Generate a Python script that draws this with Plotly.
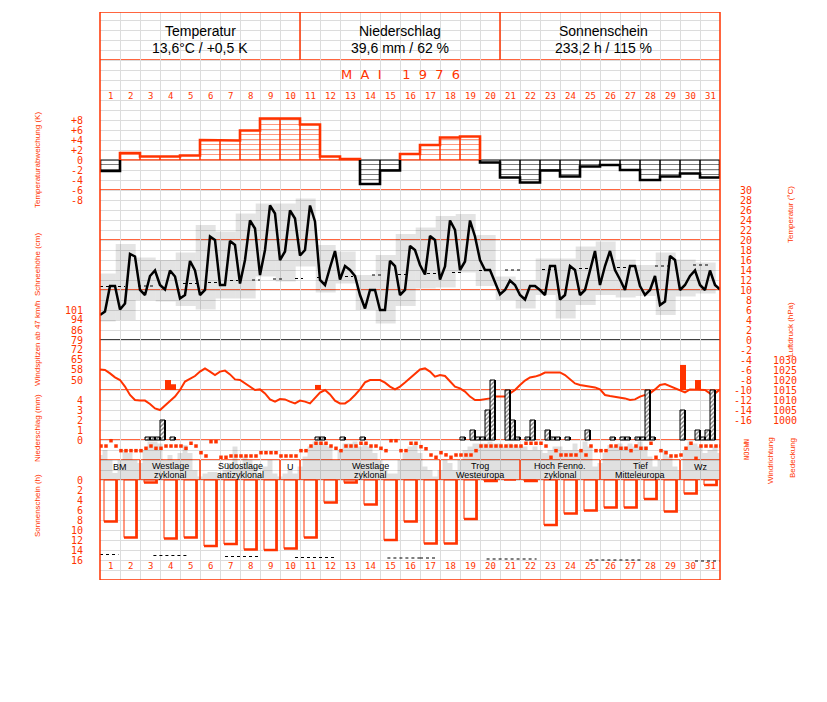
import plotly.graph_objects as go

# ---------------- data ----------------
days = list(range(1, 32))
header_titles = ["Temperatur", "Niederschlag", "Sonnenschein"]
header_values = ["13,6°C / +0,5 K", "39,6 mm / 62 %", "233,2 h / 115 %"]
month_title = "M\u00a0\u00a0A\u00a0\u00a0I\u00a0\u00a0\u00a0\u00a0\u00a01\u00a0\u00a09\u00a0\u00a07\u00a0\u00a06"

temp_dev = [-2.2, 1.4, 0.7, 0.7, 0.9, 4.0, 3.9, 5.9, 8.3, 8.3, 7.1, 0.7, 0.2, -4.8, -2.1, 1.2,
            3.0, 4.5, 4.7, -0.5, -3.5, -4.5, -2.1, -3.3, -1.3, -1.0, -2.0, -4.0, -3.3, -2.7, -3.5]

# 6-hourly air temperature (°C), starting 1 May 00h
temp_6h = [5.0, 5.7, 10.8, 10.8, 6.1, 7.3, 17.2, 16.7, 10.0, 9.0, 12.8, 13.9, 11.0, 10.1, 13.9, 12.7,
           8.3, 9.0, 15.8, 13.9, 9.0, 10.0, 20.7, 20.0, 11.0, 11.0, 19.8, 19.0, 11.3, 16.0, 23.9, 22.3,
           13.0, 18.0, 26.9, 25.3, 16.0, 17.7, 25.9, 24.3, 16.9, 18.0, 26.9, 23.7, 12.0, 11.0, 14.5, 17.8,
           12.1, 14.8, 14.0, 12.8, 9.0, 6.3, 10.0, 10.0, 6.0, 6.0, 15.8, 14.8, 9.0, 10.0, 18.8, 18.0,
           15.0, 13.1, 20.8, 20.0, 12.1, 14.7, 23.9, 22.0, 14.0, 15.7, 23.9, 20.7, 16.0, 14.0, 14.0, 11.7,
           9.1, 10.0, 11.9, 11.0, 9.0, 8.1, 10.8, 10.8, 10.0, 9.0, 14.8, 14.8, 8.1, 9.0, 14.8, 14.0,
           9.0, 10.0, 14.0, 17.8, 11.0, 14.8, 17.8, 14.0, 12.1, 10.0, 14.8, 14.8, 10.8, 9.0, 10.0, 12.8,
           7.0, 7.7, 16.8, 16.0, 10.0, 11.0, 12.8, 13.9, 11.0, 10.0, 13.9, 11.0, 10.1]
temp_max = [13.3, 19.2, 16.5, 16.0, 17.5, 23.0, 21.7, 25.3, 27.3, 27.3, 28.3, 19.0, 17.7, 13.0, 17.0, 21.2,
            22.5, 24.8, 25.2, 21.0, 12.7, 12.0, 16.3, 16.3, 18.7, 19.7, 16.1, 15.0, 17.5, 16.1, 15.5]
temp_min = [3.7, 4.0, 8.0, 7.7, 6.8, 6.1, 8.3, 8.3, 12.7, 11.7, 14.7, 9.5, 11.3, 6.0, 3.3, 6.8,
            10.3, 10.5, 13.5, 10.8, 8.0, 6.3, 9.0, 4.3, 7.0, 9.0, 8.5, 8.8, 5.0, 8.7, 9.3]
# climatological normal (dotted), segments: start day, end day, value
normal_start = [0.5, 2.4, 4.65, 5.9, 7.0, 8.1, 9.15, 10.25, 11.35, 12.75, 14.1, 15.4, 16.85, 18.1, 19.45,
                20.75, 22.6, 24.45, 26.35, 28.25, 30.15]
normal_end = [1.75, 3.25, 5.5, 6.35, 7.4, 8.5, 9.6, 10.65, 11.65, 13.15, 14.65, 15.9, 17.4, 18.65, 20.0,
              21.5, 23.25, 25.0, 26.9, 29.1, 31.0]
normal_val = [10.7, 10.8, 11.3, 11.5, 11.9, 12.0, 12.2, 12.3, 12.5, 12.7, 13.0, 13.1, 13.3, 13.5, 13.9,
              14.0, 14.1, 14.3, 14.5, 14.8, 15.0]

# wind gusts (km/h): start time (day axis), duration, peak
gust_time = [3.75, 4.05, 11.25, 29.5, 30.25]
gust_width = [0.3, 0.25, 0.3, 0.3, 0.3]
gust_val = [50.0, 46.9, 46.4, 61.0, 50.0]
gust_base = 42.7

# 6-hourly air pressure (hPa)
pressure_6h = [1025.3, 1025, 1023.3, 1021.3, 1020, 1016.7, 1012.5, 1010, 1009.7, 1009.7, 1008, 1005.8,
               1005, 1007.5, 1009.5, 1011.7, 1015, 1019.2, 1020.8, 1022, 1024.2, 1025.8, 1024.2, 1022.5,
               1024.2, 1024.7, 1022.8, 1020.3, 1020, 1018.3, 1016.3, 1015, 1015.3, 1013.3, 1010.3, 1009.2,
               1010.5, 1010.3, 1009.2, 1008.3, 1009.7, 1009.2, 1008.3, 1010.8, 1013.7, 1015, 1012.8, 1009.7,
               1008.3, 1008.3, 1010, 1012.5, 1015.3, 1018.8, 1020, 1020, 1020, 1018.7, 1016.7, 1015.3,
               1016.7, 1018.7, 1020.8, 1023,
               1025.3, 1025.8, 1024.2, 1021.7, 1022.5, 1022, 1019.2, 1016.7, 1015.8, 1014.2, 1011.7, 1010,
               1010, 1010.3, 1010.8, 1011.7, 1011.7, 1011.7, 1013.3, 1015, 1017.5, 1019.7, 1021.3, 1021.7,
               1022.5, 1023.7, 1023.8, 1023.8, 1023.8, 1022.5, 1020.3, 1018.3, 1017.5, 1017, 1016.7, 1016.3,
               1015.3, 1012.5, 1012, 1011.7, 1011.3, 1010.8, 1010, 1010.3, 1011.7, 1012.5, 1013.3, 1015.3,
               1017.5, 1018, 1017, 1015.8, 1015, 1013.8, 1015.3, 1015.3, 1015.3, 1015, 1013.3, 1013.3, 1015.3]

# 6-hourly precipitation (mm): time since 1 May 00h (days) and amount
precip_time = [2.25, 2.5, 2.75, 3.0, 3.5, 10.75, 11.0, 12.0, 13.0, 18.0, 18.5, 18.75, 19.0, 19.25, 19.5,
               20.25, 20.5, 20.75, 21.25, 21.5, 22.25, 22.5, 22.75, 23.25, 24.25, 25.5, 26.0, 26.25,
               26.75, 27.0, 27.25, 27.5, 29.0, 29.75, 30.0, 30.25, 30.5]
precip_mm = [0.3, 0.3, 0.3, 2.0, 0.3, 0.3, 0.3, 0.3, 0.3, 0.3, 1.0, 0.3, 0.3, 3.0, 6.0,
             5.0, 2.0, 0.3, 0.3, 2.0, 1.0, 0.3, 0.3, 0.3, 1.0, 0.3, 0.3, 0.3,
             0.3, 0.3, 5.0, 0.3, 3.0, 1.0, 0.3, 1.0, 5.0]

# 6-hourly cloud cover (octas)
cloud_6h = [5.0, 6, 4, 1.4, 4, 6, 5.4, 4, 3.4, 6, 7.7, 7.7, 7.3, 4, 5, 4, 5.4, 7, 5.4, 2, 0.7, 1.3, 1.6, 1.6,
            1.3, 2, 3.4, 6.7, 2.7, 4.7, 4, 2.7, 1.3, 2.7, 4, 1.3, 0.7, 1.3, 2, 1.3, 2.7, 4.7, 6.7, 7.7,
            7.7, 7.3, 6.7, 4, 6, 7.3, 7.3, 7.7, 6.7, 7.3, 6.7, 5.4, 4, 2, 1.3, 1.3, 4, 5.4, 6.7, 7.3,
            5.4, 2.7, 2, 0.7, 2, 4, 3.4, 2, 4, 6, 6.7, 7.3, 7.3, 7.3, 7.7, 7.3, 7.3, 6.7, 7.3, 7, 6.7,
            6.7, 6, 6.7, 6, 5.4, 6, 6.7, 6.7, 6, 6, 7.3, 6, 7.7, 6.7, 2.7, 3.4, 5.4, 7, 6.7, 7.3, 6.7,
            7.3, 6.7, 7.7, 6.7, 4.7, 2.7, 4, 6, 4.7, 2.7, 2, 6, 7.7, 7.3, 6.7, 5.4, 6, 6.7, 5.4]

# 6-hourly wind direction (degrees)
wind_dir_6h = [245, 245, 332, 245, 169, 169, 169, 169, 169, 208, 245, 208, 208, 245, 245, 245,
               245, 208, 290, 245, 136, 82, 316, 316, 61, 61, 82, 82, 82, 82, 82, 82,
               136, 136, 136, 136, 82, 82, 82, 82, 169, 169, 245, 290, 290, 290, 245, 208,
               169, 245, 245, 245, 290, 290, 245, 245, 208, 169, 332, 332, 169, 169, 290, 290,
               234, 200, 98, 61, 136, 100, 61, 98, 98, 98, 98, 169, 245, 245, 245, 245,
               245, 245, 245, 245, 245, 290, 290, 290, 290, 245, 61, 169, 98, 98, 98, 98,
               169, 98, 245, 169, 169, 169, 245, 245, 208, 208, 169, 245, 208, 208, 290, 61,
               169, 136, 82, 82, 98, 208, 290, 44, 245, 245, 245, 245, 245]

# weather types (Großwetterlagen)
wt_start = [1, 3, 6, 10, 11, 18, 22, 26, 30]
wt_end = [2, 5, 9, 10, 17, 21, 25, 29, 31]
wt_line1 = ["BM", "Westlage", "Südostlage", "U", "Westlage", "Trog", "Hoch Fenno.", "Tief", "Wz"]
wt_line2 = ["", "zyklonal", "antizyklonal", "", "zyklonal", "Westeuropa", "zyklonal", "Mitteleuropa", ""]

# sunshine duration (h)
sun_h = [8.3, 11.5, 0.5, 11.7, 11.5, 13.2, 12.8, 13.9, 14.0, 13.7, 11.5, 4.5, 0.5, 4.9, 12.0, 8.3,
         12.7, 12.7, 7.8, 0.2, 0.0, 0.2, 9.0, 6.7, 6.1, 5.5, 5.5, 3.8, 6.3, 2.7, 1.0]
# astronomically possible sunshine (dotted segments)
possun_start = [0.5, 3.17, 6.75, 10.25, 14.87, 16.5, 19.83, 24.97, 30.25]
possun_end = [1.42, 4.92, 8.42, 12.33, 16.5, 17.33, 22.33, 27.58, 31.5]
possun_val = [14.9, 15.1, 15.3, 15.5, 15.6, 15.6, 15.8, 16.0, 16.2]

# tick labels
dev_ticks = [-8, -6, -4, -2, 0, 2, 4, 6, 8]
snow_ticks = [0, 2, 4, 6, 8, 10]
wind_ticks = [50, 58, 65, 72, 79, 86, 94, 101]
precip_ticks = [0, 1, 2, 3, 4]
sun_ticks = [0, 2, 4, 6, 8, 10, 12, 14, 16]
temp_ticks = list(range(-16, 31, 2))
pres_ticks = [1000, 1005, 1010, 1015, 1020, 1025, 1030]

# ---------------- layout geometry ----------------
W, H = 827, 702
FX0, FX1, FY0, FY1 = 100, 720, 12, 580
RED = "#ff3300"
GRID = "#dcdcdc"
MONO = "DejaVu Sans Mono"
SANS = "Liberation Sans"


def yr(px_ref, v_ref, ppu):
    return [v_ref - (FY1 - px_ref) / ppu, v_ref + (px_ref - FY0) / ppu]


t6 = [0.5 + 0.25 * i for i in range(len(temp_6h))]
tp = [0.5 + 0.25 * i for i in range(len(pressure_6h))]
tc = [0.5 + 0.25 * i for i in range(len(cloud_6h))]
tw = [0.5 + 0.25 * i + 0.05 for i in range(len(wind_dir_6h))]

fig = go.Figure()

# cloud cover area (y2)
fig.add_trace(go.Scatter(x=tc, y=cloud_6h, yaxis="y2", mode="lines", line=dict(width=0, shape="hvh"),
                         fill="tozeroy", fillcolor="rgba(0,0,0,0.12)", hoverinfo="skip"))

# temperature (y3)
fig.add_trace(go.Bar(x=[d - 0.5 - 0.215 for d in days], y=[a - b for a, b in zip(temp_max, temp_min)],
                     base=temp_min, offset=0, width=1, yaxis="y3",
                     marker=dict(color="rgba(0,0,0,0.105)", line=dict(width=0))))
nx, ny = [], []
for s, e, v in zip(normal_start, normal_end, normal_val):
    nx += [s, e, None]
    ny += [v, v, None]
fig.add_trace(go.Scatter(x=nx, y=ny, yaxis="y3", mode="lines", line=dict(color="black", width=1, dash="dot")))
fig.add_trace(go.Scatter(x=t6, y=temp_6h, yaxis="y3", mode="lines", line=dict(color="black", width=2.5)))

# temperature deviation (y4)
pos = [v if v > 0 else None for v in temp_dev]
neg = [v if v < 0 else None for v in temp_dev]
for vals, col in ((pos, RED), (neg, "black")):
    fig.add_trace(go.Bar(x=days, y=vals, width=1, yaxis="y4",
                         marker=dict(color="rgba(0,0,0,0)", line=dict(color=col, width=1),
                                     pattern=dict(shape="-", fgcolor=col, bgcolor="rgba(0,0,0,0)",
                                                  size=5, solidity=0.2))))
runs = []
for d, v in zip(days, temp_dev):
    s = v >= 0
    if runs and runs[-1][0] == s:
        runs[-1][1].append((d, v))
    else:
        runs.append((s, [(d, v)]))
for s, run in runs:
    xs, ys = [run[0][0] - 0.5], [0]
    for d, v in run:
        xs += [d - 0.5, d + 0.5]
        ys += [v, v]
    xs.append(run[-1][0] + 0.5)
    ys.append(0)
    fig.add_trace(go.Scatter(x=xs, y=ys, yaxis="y4", mode="lines",
                             line=dict(color=RED if s else "black", width=2.6)))

# wind gusts (y6)
fig.add_trace(go.Bar(x=gust_time, y=[g - gust_base for g in gust_val], base=gust_base, width=gust_width,
                     offset=0, yaxis="y6", marker=dict(color=RED, line=dict(width=0))))

# pressure (y7)
fig.add_trace(go.Scatter(x=tp, y=pressure_6h, yaxis="y7", mode="lines", line=dict(color=RED, width=2)))

# precipitation (y8)
px_ = [t + 0.5 for t in precip_time]
fig.add_trace(go.Bar(x=px_, y=precip_mm, offset=0, width=0.25, yaxis="y8",
                     marker=dict(color="white", line=dict(color="black", width=1),
                                 pattern=dict(shape="/", fgcolor="black", bgcolor="white", size=3, solidity=0.45))))
sx, sy = [], []
for x, v in zip(px_, precip_mm):
    sx += [x + 0.25, x + 0.25, None]
    sy += [0, v, None]
fig.add_trace(go.Scatter(x=sx, y=sy, yaxis="y8", mode="lines", line=dict(color="black", width=2)))

# sunshine (y9)
fig.add_trace(go.Bar(x=days, y=sun_h, width=0.6, yaxis="y9",
                     marker=dict(color="rgba(0,0,0,0)", line=dict(color=RED, width=1))))
ux, uy = [], []
for d, v in zip(days, sun_h):
    if v > 0:
        ux += [d - 0.3, d + 0.33, d + 0.33, None]
        uy += [v, v, 0, None]
fig.add_trace(go.Scatter(x=ux, y=uy, yaxis="y9", mode="lines", line=dict(color=RED, width=2.6)))
qx, qy = [], []
for s, e, v in zip(possun_start, possun_end, possun_val):
    qx += [s, e, None]
    qy += [v, v, None]
fig.add_trace(go.Scatter(x=qx, y=qy, yaxis="y9", mode="lines", line=dict(color="black", width=1, dash="dot")))

# wind direction (y10)
fig.add_trace(go.Scatter(x=tw, y=wind_dir_6h, yaxis="y10", mode="markers",
                         marker=dict(symbol="square", size=3.5, color=RED, line=dict(width=0))))

# ---------------- axes ----------------
dom = [(H - FY1) / H, (H - FY0) / H]
tf = dict(family=MONO, size=10, color=RED)


def vax(rng, tickvals=None, ticktext=None, pos=83):
    d = dict(overlaying="y", anchor="free", position=pos / W, side="left", range=rng,
             showgrid=False, zeroline=False, showline=False, ticks="", fixedrange=True)
    if tickvals is None:
        d["showticklabels"] = False
    else:
        d.update(tickmode="array", tickvals=tickvals, ticktext=ticktext or [str(v) for v in tickvals],
                 tickfont=tf)
    return d


fig.update_layout(
    width=W, height=H, margin=dict(l=0, r=0, t=0, b=0, pad=0),
    paper_bgcolor="white", plot_bgcolor="white", showlegend=False, barmode="overlay",
    xaxis=dict(domain=[FX0 / W, FX1 / W], range=[0.5, 31.5], tickmode="array",
               tickvals=[d - 0.5 for d in days] + [days[-1] + 0.5], showticklabels=False, ticks="",
               showgrid=True, gridcolor=GRID, gridwidth=1, zeroline=False, showline=False, fixedrange=True),
    yaxis=dict(domain=dom, range=[FY1, FY0], tick0=0, dtick=10, showticklabels=False, ticks="",
               showgrid=True, gridcolor=GRID, gridwidth=1, zeroline=False, showline=False, fixedrange=True),
    yaxis2=vax(yr(480, 0, 5)),
    yaxis3=vax(yr(340, 0, 5), temp_ticks, pos=752),
    yaxis4=vax(yr(160, 0, 5), dev_ticks, [("+%d" % v) if v > 0 else str(v) for v in dev_ticks]),
    yaxis5=vax(yr(290, 0, 5), snow_ticks),
    yaxis6=vax(yr(380, 50, 1 / 0.73), wind_ticks),
    yaxis7=vax(yr(390, 1015, 2), pres_ticks, pos=797),
    yaxis8=vax(yr(440, 0, 10), precip_ticks),
    yaxis9=vax(yr(480, 0, -5), sun_ticks),
    yaxis10=vax(yr(461, 0, 5.5 / 90)),
)

# ---------------- structure ----------------
shapes = []
px0, px1 = FX0 / W, FX1 / W
shapes.append(dict(type="rect", xref="paper", yref="y", x0=px0, x1=px1, y0=FY0, y1=60,
                   fillcolor="white", line=dict(width=0), layer="between"))
for yy, col in ((60, RED), (190, RED), (240, RED), (290, RED), (340, "black"), (390, RED),
                (440, RED), (460, RED), (480, RED)):
    shapes.append(dict(type="line", xref="paper", yref="y", x0=px0, x1=px1, y0=yy, y1=yy,
                       line=dict(color=col, width=1.5), layer="between"))
for xx in (300, 500):
    shapes.append(dict(type="line", xref="paper", yref="y", x0=xx / W, x1=xx / W, y0=FY0, y1=60,
                       line=dict(color=RED, width=1.5), layer="above"))
for e in wt_end[:-1]:
    shapes.append(dict(type="line", xref="x", yref="y", x0=e + 0.5, x1=e + 0.5, y0=460, y1=480,
                       line=dict(color=RED, width=1.5), layer="above"))
shapes.append(dict(type="rect", xref="paper", yref="y", x0=px0, x1=px1, y0=FY0, y1=FY1,
                   line=dict(color=RED, width=1.5), layer="above"))
fig.update_layout(shapes=shapes)

ann = []


def A(x, y, text, font, xref="paper", angle=0):
    ann.append(dict(x=x, xref=xref, y=y, yref="y", text=text, showarrow=False, textangle=angle,
                    xanchor="center", yanchor="middle", font=font))


for i, (t, v) in enumerate(zip(header_titles, header_values)):
    cx = [200, 400, 603][i]
    A(cx / W, 31, t, dict(family=SANS, size=14, color="black"))
    A(cx / W, 47.5, v, dict(family=SANS, size=14, color="black"))
A(400 / W, 74.5, month_title, dict(family="DejaVu Sans", size=13, color=RED))
for d in days:
    for yy in (95.5, 565.5):
        A(d, yy, str(d), dict(family=MONO, size=9, color=RED), xref="x")
for s, e, l1, l2 in zip(wt_start, wt_end, wt_line1, wt_line2):
    cx = (s + e) / 2
    A(cx, 466 if l2 else 466.5, l1, dict(family=SANS, size=9, color="black"), xref="x")
    if l2:
        A(cx, 474.5, l2, dict(family=SANS, size=9, color="black"), xref="x")
titles = [(37, 160, "Temperaturabweichung (K)"), (37, 265, "Schneehöhe (cm)"),
          (37, 344, "Windspitzen ab 47 km/h"), (37, 428, "Niederschlag (mm)"), (37, 506, "Sonnenschein (h)"),
          (790, 215, "Temperatur (°C)"), (790, 330, "Luftdruck (hPa)"), (770, 461, "Windrichtung"),
          (792, 458, "Bedeckung")]
for x, y, t in titles:
    A(x / W, y, t, dict(family=SANS, size=8, color=RED), angle=-90)
A(747 / W, 450, "NOSWN", dict(family=MONO, size=7, color=RED), angle=-90)
fig.update_layout(annotations=ann)

fig.write_html("out.html", config={"displayModeBar": False},
               post_script="document.body.style.margin='0px';")
